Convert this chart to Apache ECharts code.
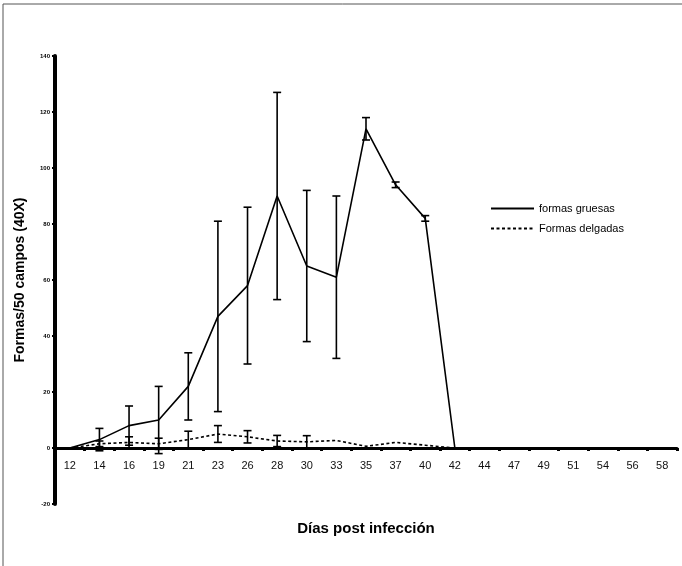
<!DOCTYPE html>
<html>
<head>
<meta charset="utf-8">
<script src="https://cdn.jsdelivr.net/npm/echarts@6/dist/echarts.min.js"></script>
<style>
  html, body { margin: 0; padding: 0; background: #fff; }
  #chart { width: 682px; height: 566px; }
</style>
</head>
<body>
<div id="chart"></div>
<script>
const days = ['12', '14', '16', '19', '21', '23', '26', '28', '30', '33', '35', '37', '40', '42', '44', '47', '49', '51', '54', '56', '58']
const yTicks = [-20, 0, 20, 40, 60, 80, 100, 120, 140]

// formas gruesas: mean and error (+/-)
const gruesas = [0, 3, 8, 10, 22, 47, 58, 90, 65, 61, 114, 94, 82, 0]
const gruesasErr = [0, 4, 7, 12, 12, 34, 28, 37, 27, 29, 4, 1, 1, 0]
// formas delgadas
const delgadas = [0, 1.5, 2, 1.5, 3, 5, 4, 2.5, 2.2, 2.7, 0.6, 2, 1, 0]
const delgadasErr = [0, 1, 2, 2, 3, 3, 2.2, 2, 2.2, 0, 0, 0, 0, 0]

const font = 'Liberation Sans, Arial, sans-serif'

const errData = (mean, err) => mean.map((v, i) => [i, v - err[i], v + err[i]]).filter((d, i) => err[i] > 0)

const errRender = (params, api) => {
  const x = api.value(0)
  const lo = api.coord([x, api.value(1)])
  const hi = api.coord([x, api.value(2)])
  const w = 4
  const style = { stroke: '#000', lineWidth: 1.6 }
  return {
    type: 'group',
    children: [
      { type: 'line', shape: { x1: lo[0], y1: lo[1], x2: hi[0], y2: hi[1] }, style },
      { type: 'line', shape: { x1: hi[0] - w, y1: hi[1], x2: hi[0] + w, y2: hi[1] }, style },
      { type: 'line', shape: { x1: lo[0] - w, y1: lo[1], x2: lo[0] + w, y2: lo[1] }, style }
    ]
  }
}

const chart = echarts.init(document.getElementById('chart'))
chart.setOption({
  animation: false,
  backgroundColor: '#fff',
  grid: { left: 55, right: 5, top: 56, bottom: 62, containLabel: false, outerBoundsMode: 'none' },
  legend: {
    orient: 'vertical',
    left: 485,
    top: 198,
    itemWidth: 43,
    itemHeight: 10,
    itemGap: 9,
    itemStyle: { opacity: 0 },
    textStyle: { fontFamily: font, fontSize: 11, color: '#000' },
    data: ['formas gruesas', 'Formas delgadas']
  },
  xAxis: {
    type: 'category',
    data: days,
    boundaryGap: true,
    // axis sits on y = 0, which is 56px above the grid bottom (-20)
    offset: -56,
    name: 'Días post infección',
    nameLocation: 'middle',
    nameGap: 73,
    nameTextStyle: { fontFamily: font, fontSize: 15, fontWeight: 'bold', color: '#000' },
    axisLine: { onZero: false, lineStyle: { color: '#000', width: 3 } },
    axisTick: { show: true, length: 3, lineStyle: { color: '#000', width: 3 } },
    axisLabel: { fontFamily: font, fontSize: 11, color: '#111', margin: 12 },
    splitLine: { show: false }
  },
  yAxis: {
    type: 'value',
    min: yTicks[0],
    max: yTicks[yTicks.length - 1],
    interval: 20,
    name: 'Formas/50 campos (40X)',
    nameLocation: 'middle',
    nameGap: 28,
    nameTextStyle: { fontFamily: font, fontSize: 14, fontWeight: 'bold', color: '#000' },
    axisLine: { show: true, lineStyle: { color: '#000', width: 4 } },
    axisTick: { show: true, length: 3, lineStyle: { color: '#000', width: 2 } },
    axisLabel: { fontFamily: font, fontSize: 6, fontWeight: 'bold', color: '#000', margin: 5 },
    splitLine: { show: false }
  },
  graphic: [
    { type: 'polyline', shape: { points: [[682, 4], [3, 4], [3, 566]] }, style: { stroke: '#555', lineWidth: 1, fill: null } }
  ],
  series: [
    {
      name: 'formas gruesas',
      type: 'line',
      data: gruesas,
      symbol: 'none',
      lineStyle: { color: '#000', width: 1.6, type: 'solid' },
      itemStyle: { color: '#000' },
      z: 3
    },
    {
      name: 'Formas delgadas',
      type: 'line',
      data: delgadas,
      symbol: 'none',
      lineStyle: { color: '#000', width: 1.6, type: [3, 2.5] },
      itemStyle: { color: '#000' },
      z: 3
    },
    {
      type: 'custom',
      renderItem: errRender,
      data: errData(gruesas, gruesasErr),
      encode: { x: 0, y: [1, 2] },
      z: 4
    },
    {
      type: 'custom',
      renderItem: errRender,
      data: errData(delgadas, delgadasErr),
      encode: { x: 0, y: [1, 2] },
      z: 4
    }
  ]
})
</script>
</body>
</html>
